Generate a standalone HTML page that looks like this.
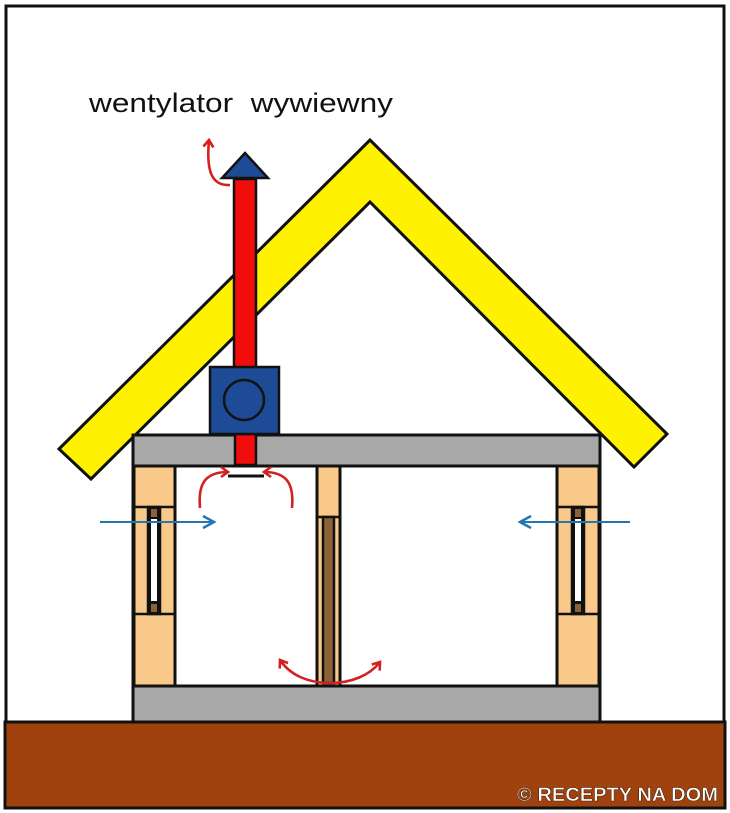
<!DOCTYPE html>
<html><head><meta charset="utf-8"><style>
html,body{margin:0;padding:0;background:#fff;}
svg{display:block;}
</style></head><body>
<svg width="730" height="813" viewBox="0 0 730 813" xmlns="http://www.w3.org/2000/svg">
<defs>
<marker id="ar" markerWidth="14" markerHeight="14" refX="9" refY="7" orient="auto" markerUnits="userSpaceOnUse">
<path d="M2,2 L9,7 L2,12" fill="none" stroke="#d42020" stroke-width="2.6"/>
</marker>
<marker id="ab" markerWidth="16" markerHeight="16" refX="13" refY="8" orient="auto" markerUnits="userSpaceOnUse">
<path d="M2,2 L13,8 L2,14" fill="none" stroke="#2377b0" stroke-width="2.5"/>
</marker>
</defs>
<rect x="0" y="0" width="730" height="813" fill="#fff"/>
<rect x="5" y="722" width="720" height="86" fill="#a0420e" stroke="#111" stroke-width="3"/>
<path d="M6,722 L6,6 L724,6 L724,722" fill="none" stroke="#111" stroke-width="3"/>
<polygon points="59,449 370,140 667,434 634,467 370,202 91,479" fill="#fff200" stroke="#111" stroke-width="3"/>
<text x="89" y="112" font-family="Liberation Sans, sans-serif" font-size="27" fill="#111" textLength="304" lengthAdjust="spacingAndGlyphs">wentylator&#160;&#160;wywiewny</text>
<text x="718" y="801" text-anchor="end" font-family="Liberation Sans, sans-serif" style="font-weight:bold" font-size="19" fill="#fff" stroke="#3a1a08" stroke-width="0.5" textLength="201" lengthAdjust="spacingAndGlyphs">© RECEPTY NA DOM</text>
<rect x="133" y="465" width="467" height="222" fill="#fff" stroke="#111" stroke-width="3"/>
<g stroke="#111" stroke-width="3">
<rect x="134" y="465" width="41" height="221" fill="#f9c98a"/>
<rect x="557" y="465" width="42" height="221" fill="#f9c98a"/>
<rect x="317" y="465" width="23" height="221" fill="#f9c98a"/>
</g>
<g stroke="#111" stroke-width="2.5">
<line x1="134" y1="507" x2="175" y2="507"/>
<line x1="134" y1="614" x2="175" y2="614"/>
<rect x="148" y="507" width="12" height="107" fill="#111"/>
<rect x="151" y="509" width="6" height="8" fill="#8a6238" stroke="none"/>
<rect x="151" y="604" width="6" height="8" fill="#8a6238" stroke="none"/>
<rect x="151" y="519" width="6" height="82" fill="#fff" stroke="none"/>
</g>
<g stroke="#111" stroke-width="2.5">
<line x1="557" y1="507" x2="599" y2="507"/>
<line x1="557" y1="614" x2="599" y2="614"/>
<rect x="572" y="507" width="12" height="107" fill="#111"/>
<rect x="575" y="509" width="6" height="8" fill="#8a6238" stroke="none"/>
<rect x="575" y="604" width="6" height="8" fill="#8a6238" stroke="none"/>
<rect x="575" y="519" width="6" height="82" fill="#fff" stroke="none"/>
</g>
<g stroke="#111" stroke-width="2.5">
<line x1="317" y1="517" x2="340" y2="517"/>
<rect x="323" y="517" width="11" height="166" fill="#8a6238"/>
</g>
<rect x="133" y="435" width="467" height="31" fill="#a8a8a8" stroke="#111" stroke-width="3"/>
<rect x="133" y="686" width="467" height="36" fill="#a8a8a8" stroke="#111" stroke-width="3"/>
<rect x="234" y="179" width="22" height="189" fill="#f20d0d" stroke="#111" stroke-width="2.5"/>
<rect x="235" y="434" width="21" height="31" fill="#f20d0d" stroke="#111" stroke-width="2.5"/>
<polygon points="245,153 268,178 222,178" fill="#1e4b96" stroke="#111" stroke-width="2.5"/>
<rect x="210" y="367" width="69" height="67" fill="#1e4b96" stroke="#111" stroke-width="2.5"/>
<circle cx="244" cy="400" r="20" fill="#1e4b96" stroke="#111" stroke-width="2.5"/>
<line x1="228" y1="476" x2="264" y2="476" stroke="#111" stroke-width="3"/>
<g fill="none" stroke="#d42020" stroke-width="2.6" marker-end="url(#ar)">
<path d="M230,185 C212,186 206,172 209,140"/>
<path d="M200,508 C198,485 204,472 228,472"/>
<path d="M292,508 C294,485 288,472 264,472"/>
<path d="M330,683 C308,683 290,675 280,660"/>
<path d="M330,683 C352,683 370,675 380,662"/>
</g>
<line x1="100" y1="522" x2="214" y2="522" stroke="#2377b0" stroke-width="2" marker-end="url(#ab)"/>
<line x1="630" y1="522" x2="520" y2="522" stroke="#2377b0" stroke-width="2" marker-end="url(#ab)"/>
</svg>
</body></html>
